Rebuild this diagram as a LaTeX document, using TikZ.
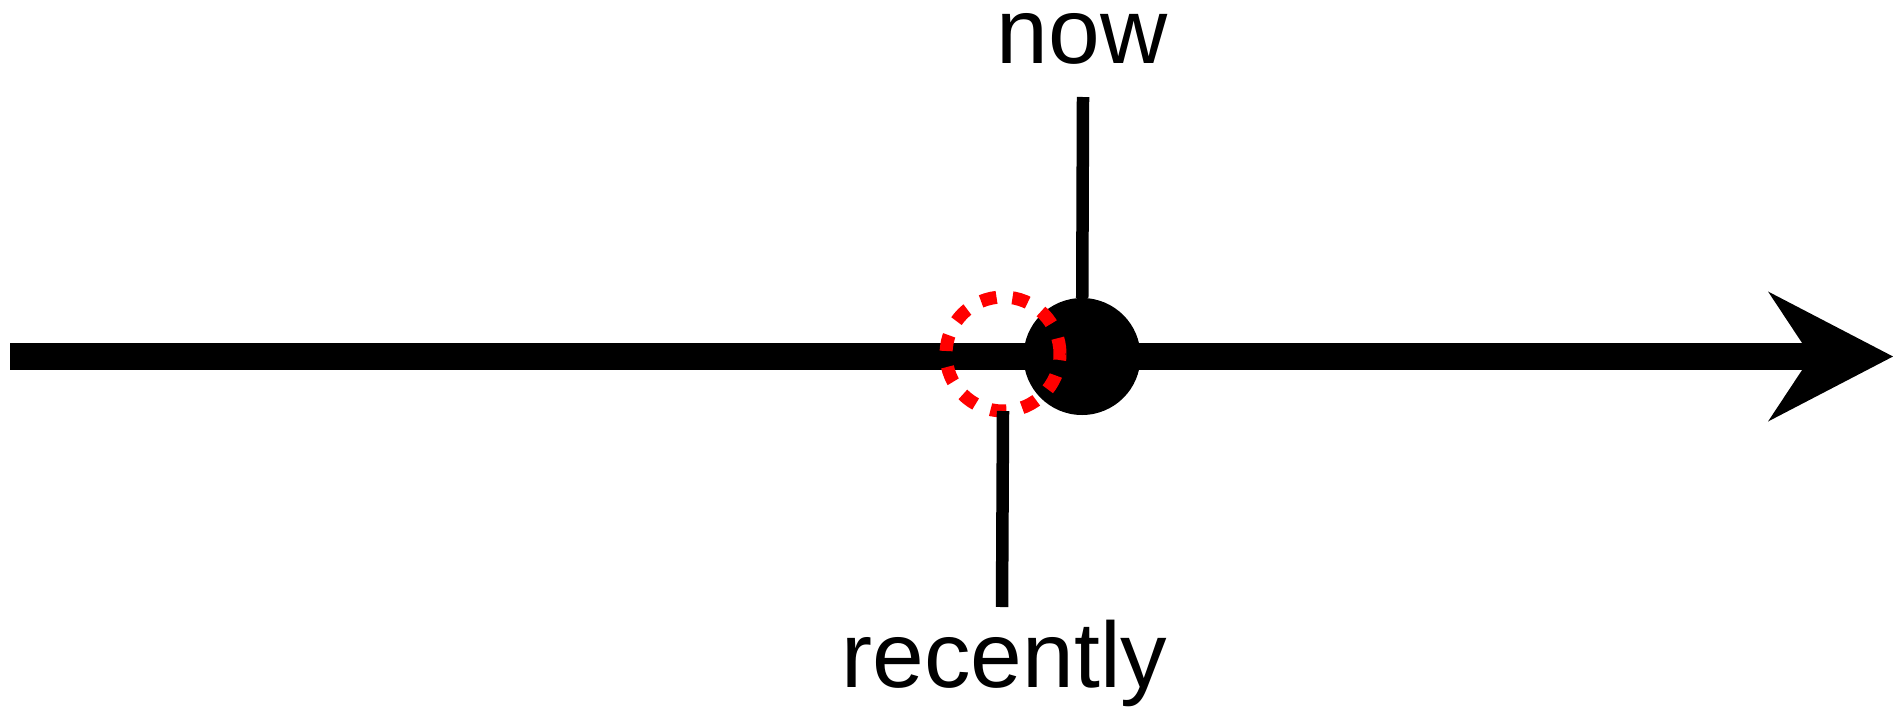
\documentclass[tikz,border=0pt]{standalone}
\usepackage{fontspec}
\setmainfont{Liberation Sans}
\usetikzlibrary{positioning,arrows.meta}

\begin{document}
\begin{tikzpicture}[
        x=0.5pt, y=0.5pt,
        font=\fontsize{46.5}{56}\selectfont,
        axis/.style={
            line width=13.5pt,
            -{Stealth[length=62.5pt, width=65pt, inset=21.5pt, line width=0pt]}
        },
        dot/.style={
            circle,
            fill=black,
            inner sep=0pt,
            outer sep=0pt,
            minimum size=58.5pt
        },
        ring/.style={
            circle,
            draw=red,
            line width=6.5pt,
            dash pattern=on 8pt off 8pt,
            inner sep=0pt,
            outer sep=0pt,
            minimum size=57pt
        },
        tick/.style={line width=6.25pt, draw=black},
        lab/.style={anchor=base, inner sep=0pt}
    ]

        \useasboundingbox (0,0) rectangle (1893,709);

        % Time axis
        \coordinate (axisstart) at (10,352.5);
        \coordinate (axisend) at (1893,352.5);
        \draw[axis] (axisstart) -- (axisend);

        % Points on the axis
        \node[dot] (nowdot) at (1082,352.5) {};
        \node[ring] (recentring) at (1003,355) {};

        % Labels
        \node[lab] (nowlabel) at (1082,646) {now};
        \node[lab] (recentlabel) at (1004.5,22) {recently};

        \coordinate (nowtop) at (1083,612);
        \coordinate (recentbottom) at (1002,102);

        \draw[tick] (nowtop) -- (nowdot);
        \draw[tick] (recentring.south) -- (recentbottom);

    \end{tikzpicture}
\end{document}
